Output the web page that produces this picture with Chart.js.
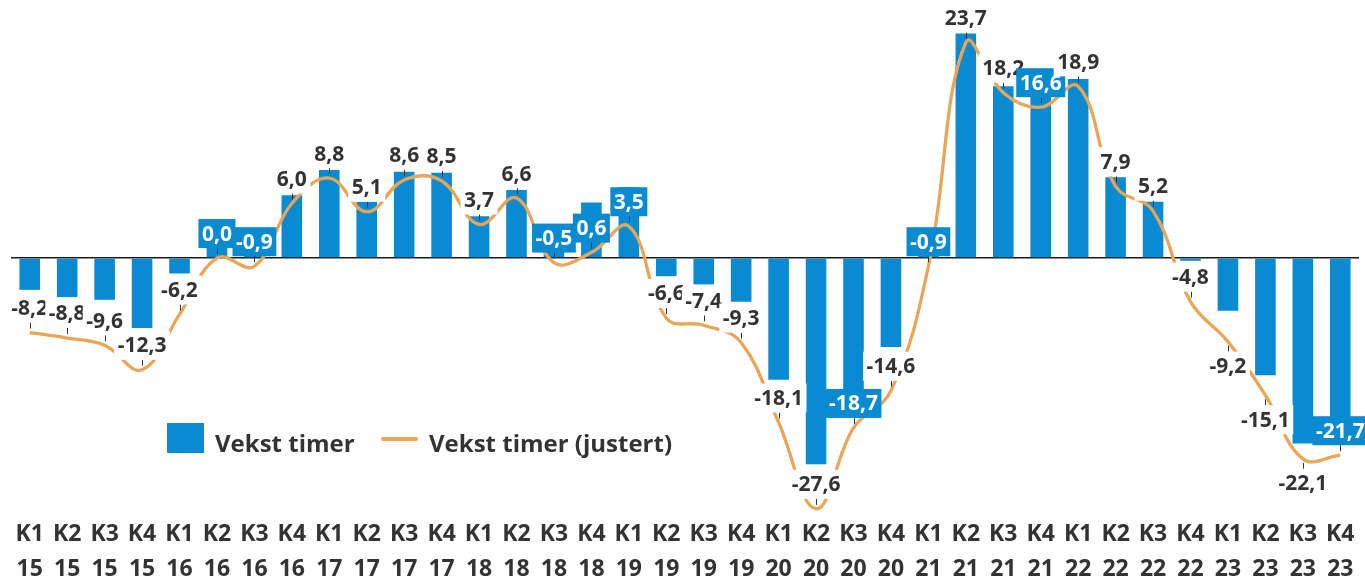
<!DOCTYPE html>
<html lang="no">
<head>
<meta charset="UTF-8">
<title>Vekst timer</title>
<script src="https://cdn.jsdelivr.net/npm/chart.js"></script>
<style>
  body { margin: 0; background: #fff; }
  #ramme { position: relative; width: 1365px; height: 579px; }
  .tekst { position: absolute; top: 426px; line-height: 30px; font: bold 24px "Open Sans", sans-serif; color: #333; white-space: nowrap; }
  .boks { position: absolute; left: 167px; top: 423px; width: 37px; height: 30px; background: #0a8ad0; }
  .strek { position: absolute; left: 381px; top: 437px; width: 37px; height: 4px; border-radius: 2px; background: #e9a659; }
</style>
</head>
<body>
<div id="ramme">
  <canvas id="graf"></canvas>
  <!-- legende inne i plottet -->
  <div class="boks"></div>
  <div class="tekst" style="left:215px">Vekst timer</div>
  <div class="strek"></div>
  <div class="tekst" style="left:429px">Vekst timer (justert)</div>
</div>

<script>
const kategorier = [
  ['K1','15'],['K2','15'],['K3','15'],['K4','15'],
  ['K1','16'],['K2','16'],['K3','16'],['K4','16'],
  ['K1','17'],['K2','17'],['K3','17'],['K4','17'],
  ['K1','18'],['K2','18'],['K3','18'],['K4','18'],
  ['K1','19'],['K2','19'],['K3','19'],['K4','19'],
  ['K1','20'],['K2','20'],['K3','20'],['K4','20'],
  ['K1','21'],['K2','21'],['K3','21'],['K4','21'],
  ['K1','22'],['K2','22'],['K3','22'],['K4','22'],
  ['K1','23'],['K2','23'],['K3','23'],['K4','23']
];

// stolpene (lest av bildet)
const vekstTimer = [
  -3.5, -4.3, -4.6, -7.7,
  -1.7, 1.3, 2.0, 6.9,
  9.7, 6.2, 9.5, 9.4,
  4.6, 7.5, 1.0, 6.1,
  7.8, -2.0, -2.9, -4.8,
  -13.4, -22.7, -15.5, -9.8,
  1.2, 24.7, 18.9, 20.7,
  19.7, 8.9, 6.2, -0.3,
  -5.8, -12.9, -20.4, -19.8
];

// linjen, verdiene i etikettene
const vekstJustert = [
  -8.2, -8.8, -9.6, -12.3,
  -6.2, 0.0, -0.9, 6.0,
  8.8, 5.1, 8.6, 8.5,
  3.7, 6.6, -0.5, 0.6,
  3.5, -6.6, -7.4, -9.3,
  -18.1, -27.6, -18.7, -14.6,
  -0.9, 23.7, 18.2, 16.6,
  18.9, 7.9, 5.2, -4.8,
  -9.2, -15.1, -22.1, -21.7
];

const yMin = -28.5;
const yMax = 28.4;

const BLAA = '#0a8ad0';
const ORANSJE = '#e9a659';
const TEKST = '#333333';

// dataetiketter for linjen, med hvit (eller blå over stolpe) bakgrunn
const etiketter = {
  id: 'etiketter',
  afterDatasetsDraw(chart) {
    const ctx = chart.ctx;
    const stolper = chart.getDatasetMeta(0).data;
    const punkter = chart.getDatasetMeta(1).data;
    ctx.save();
    ctx.font = 'bold 21px "Open Sans", sans-serif';
    ctx.textAlign = 'center';
    ctx.textBaseline = 'middle';
    const h = 29;

    vekstJustert.forEach((v, i) => {
      const p = punkter[i];
      const s = stolper[i];
      const tekst = v.toFixed(1).replace('.', ',');
      const b = ctx.measureText(tekst).width + 7;
      const sx0 = s.x - s.width / 2, sx1 = s.x + s.width / 2;
      const sy0 = Math.min(s.y, s.base), sy1 = Math.max(s.y, s.base);
      const treffer = top => p.x + b / 2 > sx0 && p.x - b / 2 < sx1 && top + h > sy0 && top < sy1;

      let top = p.y - 10 - h;
      let under = false;
      if (vekstTimer[i] < 0 && i > 0 && v < vekstJustert[i - 1] && treffer(top)) {
        top = p.y + 10;
        under = true;
      }
      const blaa = treffer(top);
      const x = Math.round(p.x) + 0.5;

      ctx.strokeStyle = TEKST;
      ctx.lineWidth = 1;
      ctx.beginPath();
      if (under) {
        ctx.moveTo(x, p.y + 4);
        ctx.lineTo(x, top);
      } else {
        ctx.moveTo(x, top + h);
        ctx.lineTo(x, p.y - 4);
      }
      ctx.stroke();

      ctx.fillStyle = blaa ? BLAA : '#fff';
      ctx.fillRect(p.x - b / 2, top, b, h);
      ctx.fillStyle = blaa ? '#fff' : TEKST;
      ctx.fillText(tekst, p.x, top + h / 2 + 1);
    });
    ctx.restore();
  }
};

new Chart(document.getElementById('graf'), {
  type: 'bar',
  data: {
    labels: kategorier,
    datasets: [
      {
        label: 'Vekst timer',
        data: vekstTimer,
        backgroundColor: BLAA,
        categoryPercentage: 1,
        barPercentage: 0.55,
        order: 2
      },
      {
        type: 'line',
        label: 'Vekst timer (justert)',
        data: vekstJustert,
        borderColor: ORANSJE,
        borderWidth: 3.3,
        pointRadius: 0,
        tension: 0.4,
        fill: false,
        order: 1
      }
    ]
  },
  options: {
    responsive: true,
    maintainAspectRatio: false,
    animation: false,
    layout: { padding: { left: 11, right: 6, top: 0, bottom: 0 } },
    plugins: {
      legend: { display: false },
      tooltip: { enabled: false }
    },
    scales: {
      x: {
        grid: { display: false },
        border: { display: false },
        ticks: {
          autoSkip: false,
          maxRotation: 0,
          padding: -8,
          color: TEKST,
          font: { family: '"Open Sans", sans-serif', size: 23, weight: 'bold', lineHeight: 1.52 }
        },
        afterFit(scale) { scale.height = 62; }
      },
      y: {
        min: yMin,
        max: yMax,
        ticks: { display: false, stepSize: 5 },
        border: { display: false },
        grid: {
          drawTicks: false,
          lineWidth: 1.5,
          color: c => c.tick.value === 0 ? '#1a1a1a' : 'transparent'
        },
        afterFit(scale) { scale.width = 0; }
      }
    }
  },
  plugins: [etiketter]
});
</script>
</body>
</html>
